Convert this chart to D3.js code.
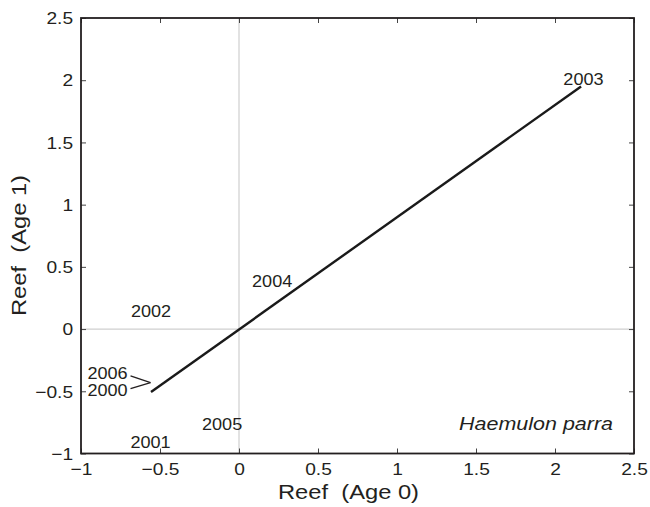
<!DOCTYPE html>
<html>
<head>
<meta charset="utf-8">
<script src="https://cdn.jsdelivr.net/npm/d3@7"></script>
<style>
  body { margin: 0; background: #fff; }
  text { font-family: "Liberation Sans", Arial, Helvetica, sans-serif; fill: #231f20; }
</style>
</head>
<body>
<script>
// year labels and their (Age 0, Age 1) positions
const years = ['2000', '2001', '2002', '2003', '2004', '2005', '2006']
const age0 = [-0.56, -0.56, -0.557, 2.18, 0.21, -0.107, -0.56]
const age1 = [-0.43, -0.91, 0.145, 2.01, 0.385, -0.77, -0.43]

// fitted line end points
const lineX = [-0.557, 2.165]
const lineY = [-0.506, 1.95]

const xTicks = [-1, -0.5, 0, 0.5, 1, 1.5, 2, 2.5]
const yTicks = [-1, -0.5, 0, 0.5, 1, 1.5, 2, 2.5]

const species = 'Haemulon parra'
const xTitle = 'Reef  (Age 0)'
const yTitle = 'Reef  (Age 1)'

const svgWidth = 650
const svgHeight = 507
const stretch = 'scale(1.13,1)'

const svg = d3.select('body').append('svg')
  .attr('width', svgWidth).attr('height', svgHeight)

const x = d3.scaleLinear().domain([-1, 2.5]).range([81, 634])
const y = d3.scaleLinear().domain([-1, 2.5]).range([453.5, 18])
const fmt = d3.format('')

// reference lines at zero
svg.append('line')
  .attr('x1', x(0)).attr('x2', x(0)).attr('y1', y(-1)).attr('y2', y(2.5))
  .attr('stroke', '#cfcfcf').attr('stroke-width', 1.2)
svg.append('line')
  .attr('x1', x(-1)).attr('x2', x(2.5)).attr('y1', y(0)).attr('y2', y(0))
  .attr('stroke', '#cfcfcf').attr('stroke-width', 1.2)

// axes, ticks pointing inward
const gB = svg.append('g').attr('transform', `translate(0,${y(-1)})`)
  .call(d3.axisBottom(x).tickValues(xTicks).tickSize(-5).tickFormat(fmt))
gB.selectAll('text').attr('y', 21.5).attr('dy', 0)
  .attr('transform', stretch)

const gL = svg.append('g').attr('transform', `translate(${x(-1)},0)`)
  .call(d3.axisLeft(y).tickValues(yTicks).tickSize(-5).tickFormat(fmt))
gL.selectAll('text').attr('x', -7).attr('dy', '0.34em')
  .attr('transform', stretch)

svg.append('g').attr('transform', `translate(0,${y(2.5)})`)
  .call(d3.axisTop(x).tickValues(xTicks).tickSize(-5).tickFormat(''))
svg.append('g').attr('transform', `translate(${x(2.5)},0)`)
  .call(d3.axisRight(y).tickValues(yTicks).tickSize(-5).tickFormat(''))

svg.selectAll('.domain').remove()
svg.selectAll('.tick line').attr('stroke', '#444').attr('stroke-width', 1)
svg.selectAll('.tick text').style('font-size', '17px')
  .style('font-family', '"Liberation Sans", Arial, sans-serif').attr('fill', '#231f20')

// frame
svg.append('rect')
  .attr('x', x(-1)).attr('y', y(2.5))
  .attr('width', x(2.5) - x(-1)).attr('height', y(-1) - y(2.5))
  .attr('fill', 'none').attr('stroke', '#231f20').attr('stroke-width', 1.8)

// fitted line
svg.append('line')
  .attr('x1', x(lineX[0])).attr('y1', y(lineY[0]))
  .attr('x2', x(lineX[1])).attr('y2', y(lineY[1]))
  .attr('stroke', '#1a1a1a').attr('stroke-width', 2.4)

// labels offset from crowded points (pixels)
const offsets = { '2006': [-43, -9], '2000': [-43, 8] }

const pts = years.map((yr, i) => ({ yr, a0: age0[i], a1: age1[i] }))

// leader lines for offset labels
pts.filter(d => offsets[d.yr]).forEach(d => {
  const o = offsets[d.yr]
  svg.append('line')
    .attr('x1', x(d.a0) + o[0] + 23).attr('y1', y(d.a1) + o[1] * 0.75)
    .attr('x2', x(d.a0)).attr('y2', y(d.a1))
    .attr('stroke', '#231f20').attr('stroke-width', 1.3)
})

svg.append('g').selectAll('text').data(pts).enter().append('text')
  .attr('transform', d => {
    const o = offsets[d.yr] || [0, 0]
    return `translate(${x(d.a0) + o[0]},${y(d.a1) + o[1]}) ${stretch}`
  })
  .attr('text-anchor', 'middle')
  .attr('dy', '0.35em')
  .style('font-size', '16px')
  .text(d => d.yr)

// species name
svg.append('text')
  .attr('transform', `translate(613,430) ${stretch}`)
  .attr('text-anchor', 'end')
  .style('font-size', '19px').style('font-style', 'italic')
  .text(species)

// axis titles
svg.append('text')
  .attr('transform', `translate(348.5,499) ${stretch}`)
  .attr('text-anchor', 'middle')
  .style('font-size', '21px').style('white-space', 'pre')
  .text(xTitle)

svg.append('text')
  .attr('transform', `translate(26,245.5) rotate(-90) ${stretch}`)
  .attr('text-anchor', 'middle')
  .style('font-size', '21px').style('white-space', 'pre')
  .text(yTitle)
</script>
</body>
</html>
